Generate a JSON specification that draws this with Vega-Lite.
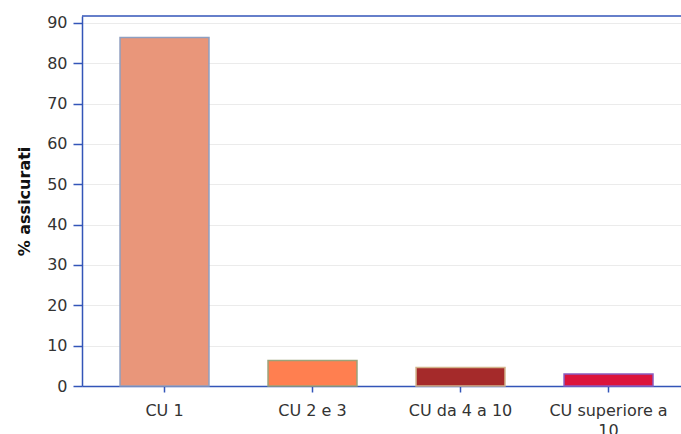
{
  "$schema": "https://vega.github.io/schema/vega-lite/v6.json",
  "autosize": "none",
  "width": 599,
  "height": 370,
  "padding": {"left": 82, "top": 16, "right": 0, "bottom": 48},
  "config": {"view": {"stroke": null}, "font": "DejaVu Sans"},
  "layer": [
    {
      "data": {"values": [
        {"classe": "CU 1", "pct": 86.4},
        {"classe": "CU 2 e 3", "pct": 6.3},
        {"classe": "CU da 4 a 10", "pct": 4.6},
        {"classe": "CU superiore a 10", "pct": 3.0}
      ]},
      "mark": {"type": "bar", "strokeWidth": 1.5},
      "encoding": {
        "x": {
          "field": "classe", "type": "nominal", "sort": null,
          "scale": {"paddingInner": 0.399, "paddingOuter": 0.223, "align": 0.576},
          "axis": {
            "title": null, "labelAngle": 0, "labelFontSize": 16, "labelColor": "#333333",
            "labelPadding": 10, "labelLineHeight": 20, "tickSize": 6, "tickWidth": 1.5,
            "tickColor": "#3355b8", "domainColor": "#3355b8", "domainWidth": 1.5,
            "labelExpr": "datum.label == 'CU superiore a 10' ? ['CU superiore a', '10'] : datum.label"
          }
        },
        "y": {
          "field": "pct", "type": "quantitative",
          "scale": {"domain": [0, 91.7], "nice": false},
          "axis": {
            "title": "% assicurati", "titleFontSize": 16, "titleFontWeight": "bold", "titleColor": "#111111",
            "titlePadding": 14, "values": [0, 10, 20, 30, 40, 50, 60, 70, 80, 90],
            "labelFontSize": 16, "labelColor": "#333333", "labelPadding": 6,
            "tickSize": 9, "tickWidth": 1.5, "tickColor": "#3355b8",
            "domainColor": "#3355b8", "domainWidth": 1.5,
            "gridColor": "#ebebeb", "gridWidth": 1
          }
        },
        "color": {
          "field": "classe", "type": "nominal",
          "scale": {"domain": ["CU 1", "CU 2 e 3", "CU da 4 a 10", "CU superiore a 10"],
                    "range": ["#e9967a", "#ff7f50", "#a52a2a", "#dc143c"]},
          "legend": null
        },
        "stroke": {
          "field": "classe", "type": "nominal",
          "scale": {"domain": ["CU 1", "CU 2 e 3", "CU da 4 a 10", "CU superiore a 10"],
                    "range": ["#8f9fc0", "#9aa27a", "#d2b48c", "#8a5cc0"]},
          "legend": null
        }
      }
    },
    {
      "data": {"values": [{"top": 91.7}]},
      "mark": {"type": "rule", "color": "#3355b8", "strokeWidth": 1.5},
      "encoding": {"y": {"field": "top", "type": "quantitative"}}
    }
  ]
}
